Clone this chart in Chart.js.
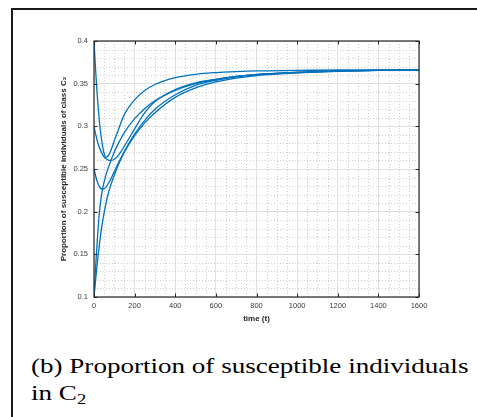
<!DOCTYPE html>
<html>
<head>
<meta charset="utf-8">
<script src="https://cdn.jsdelivr.net/npm/chart.js@4.4.0/dist/chart.umd.min.js"></script>
<style>
  html, body { margin: 0; padding: 0; background: #fff; }
  body { width: 477px; height: 417px; position: relative; overflow: hidden; }
  #frame { position: absolute; left: 11px; top: 8px; width: 480px; height: 420px;
           border-left: 2px solid #1a1a1a; border-top: 2px solid #1a1a1a; }
  #wrap { position: absolute; left: 0; top: 0; width: 477px; height: 330px; }
  #caption { position: absolute; left: 31px; top: 352px; font-family: "Liberation Serif", serif;
             font-size: 22px; line-height: 27px; color: #000; white-space: nowrap;
             transform: scaleX(1.23); transform-origin: 0 0; }
  #caption sub { font-size: 15px; vertical-align: -4px; line-height: 0; }
</style>
</head>
<body>
<div id="frame"></div>
<div id="wrap"><canvas id="myChart" width="477" height="330"></canvas></div>
<div id="caption">(b) Proportion of susceptible individuals<br>in C<sub>2</sub></div>

<script>
// time samples (t)
const times = [0, 5, 10, 15, 20, 25, 30, 40, 50, 60, 70, 80, 100, 120, 150, 200, 250, 300, 400, 500, 600, 700, 800, 1000, 1200, 1400, 1600];

// the five trajectories
const fromPoint40 = [0.400, 0.378, 0.358, 0.340, 0.324, 0.310, 0.298, 0.280, 0.268, 0.264, 0.2655, 0.270, 0.283, 0.296, 0.314, 0.331, 0.342, 0.349, 0.357, 0.361, 0.363, 0.3642, 0.365, 0.3655, 0.366, 0.366, 0.366];
const fromPoint30 = [0.300, 0.294, 0.289, 0.284, 0.280, 0.276, 0.273, 0.268, 0.264, 0.262, 0.2605, 0.260, 0.2615, 0.266, 0.277, 0.297, 0.316, 0.329, 0.343, 0.351, 0.355, 0.3585, 0.3605, 0.363, 0.3648, 0.3656, 0.366];
const fromPoint25 = [0.250, 0.245, 0.240, 0.236, 0.233, 0.230, 0.228, 0.2265, 0.227, 0.229, 0.233, 0.237, 0.247, 0.257, 0.271, 0.291, 0.307, 0.320, 0.337, 0.348, 0.354, 0.358, 0.3605, 0.3632, 0.3648, 0.3656, 0.366];
const fromPoint10a = [0.100, 0.122, 0.143, 0.162, 0.180, 0.195, 0.207, 0.224, 0.235, 0.244, 0.251, 0.258, 0.270, 0.280, 0.293, 0.309, 0.321, 0.330, 0.342, 0.350, 0.355, 0.3585, 0.361, 0.3634, 0.365, 0.3657, 0.366];
const fromPoint10b = [0.100, 0.113, 0.125, 0.137, 0.148, 0.158, 0.168, 0.185, 0.199, 0.211, 0.221, 0.229, 0.243, 0.255, 0.270, 0.289, 0.304, 0.316, 0.334, 0.345, 0.352, 0.3565, 0.3595, 0.3627, 0.3645, 0.3655, 0.366];

const seriesList = [fromPoint40, fromPoint30, fromPoint25, fromPoint10a, fromPoint10b];

// axis ticks
const xTicks = [0, 200, 400, 600, 800, 1000, 1200, 1400, 1600];
const yTicks = [0.1, 0.15, 0.2, 0.25, 0.3, 0.35, 0.4];
const xMinorStep = 50;
const yMinorStep = 0.01;

const lineColor = '#0072BD';
const axisColor = '#262626';

// MATLAB-like axes: dotted minor grid, inward ticks, full box
const matlabAxes = {
  id: 'matlabAxes',
  beforeDatasetsDraw(chart) {
    const ctx = chart.ctx;
    const a = chart.chartArea;
    const x = chart.scales.x, y = chart.scales.y;
    ctx.save();
    ctx.strokeStyle = '#cfcfcf';
    ctx.lineWidth = 1;
    ctx.setLineDash([1, 2]);
    for (let v = x.min; v <= x.max + 1e-9; v += xMinorStep) {
      if (xTicks.includes(v)) continue;
      const px = Math.round(x.getPixelForValue(v)) + 0.5;
      ctx.beginPath(); ctx.moveTo(px, a.top); ctx.lineTo(px, a.bottom); ctx.stroke();
    }
    for (let i = 0; y.min + i * yMinorStep <= y.max + 1e-9; i++) {
      const v = +(y.min + i * yMinorStep).toFixed(3);
      if (yTicks.some(t => Math.abs(t - v) < 1e-6)) continue;
      const py = Math.round(y.getPixelForValue(v)) + 0.5;
      ctx.beginPath(); ctx.moveTo(a.left, py); ctx.lineTo(a.right, py); ctx.stroke();
    }
    ctx.restore();
  },
  afterDatasetsDraw(chart) {
    const ctx = chart.ctx;
    const a = chart.chartArea;
    const x = chart.scales.x, y = chart.scales.y;
    const tl = 3.5;
    ctx.save();
    ctx.strokeStyle = axisColor;
    ctx.lineWidth = 1;
    ctx.beginPath();
    xTicks.forEach(v => {
      const px = Math.round(x.getPixelForValue(v)) + 0.5;
      ctx.moveTo(px, a.bottom); ctx.lineTo(px, a.bottom - tl);
      ctx.moveTo(px, a.top); ctx.lineTo(px, a.top + tl);
    });
    yTicks.forEach(v => {
      const py = Math.round(y.getPixelForValue(v)) + 0.5;
      ctx.moveTo(a.left, py); ctx.lineTo(a.left + tl, py);
      ctx.moveTo(a.right, py); ctx.lineTo(a.right - tl, py);
    });
    ctx.stroke();
    ctx.lineWidth = 1.2;
    ctx.strokeRect(a.left, a.top, a.right - a.left, a.bottom - a.top);
    ctx.restore();
  }
};

const tickFont = { family: '"Liberation Sans", Arial, sans-serif', size: 7.5 };
const titleFont = { family: '"Liberation Sans", Arial, sans-serif', size: 8, weight: 'bold' };

const datasets = seriesList.map(vals => ({
  data: times.map((t, i) => ({ x: t, y: vals[i] })),
  borderColor: lineColor,
  borderWidth: 1.3,
  pointRadius: 0,
  fill: false,
  cubicInterpolationMode: 'monotone'
}));

const ctx = document.getElementById('myChart');
const chart = new Chart(ctx, {
  type: 'line',
  data: { datasets: datasets },
  options: {
    responsive: false,
    animation: false,
    events: [],
    layout: { padding: { left: 0, top: 41, right: 58, bottom: 0 } },
    plugins: { legend: { display: false }, tooltip: { enabled: false } },
    scales: {
      x: {
        type: 'linear', min: 0, max: 1600,
        afterBuildTicks: s => { s.ticks = xTicks.map(v => ({ value: v })); },
        afterFit: s => { s.height = 33; },
        ticks: { font: tickFont, color: '#3a3a3a', padding: 4, maxRotation: 0, callback: v => String(v) },
        grid: { color: '#e0e0e0', lineWidth: 1, drawTicks: false },
        border: { display: false },
        title: { display: true, text: 'time (t)', font: titleFont, color: axisColor, padding: { top: 0, bottom: 6 } }
      },
      y: {
        type: 'linear', min: 0.1, max: 0.4,
        afterBuildTicks: s => { s.ticks = yTicks.map(v => ({ value: v })); },
        afterFit: s => { s.width = 94; },
        ticks: { font: tickFont, color: '#3a3a3a', padding: 6, callback: v => String(+v.toFixed(2)) },
        grid: { color: '#e0e0e0', lineWidth: 1, drawTicks: false },
        border: { display: false },
        title: { display: true, text: 'Proportion of susceptible individuals of class C\u2082', font: titleFont, color: axisColor, padding: { top: 59, bottom: 0 } }
      }
    }
  },
  plugins: [matlabAxes]
});
</script>
</body>
</html>
